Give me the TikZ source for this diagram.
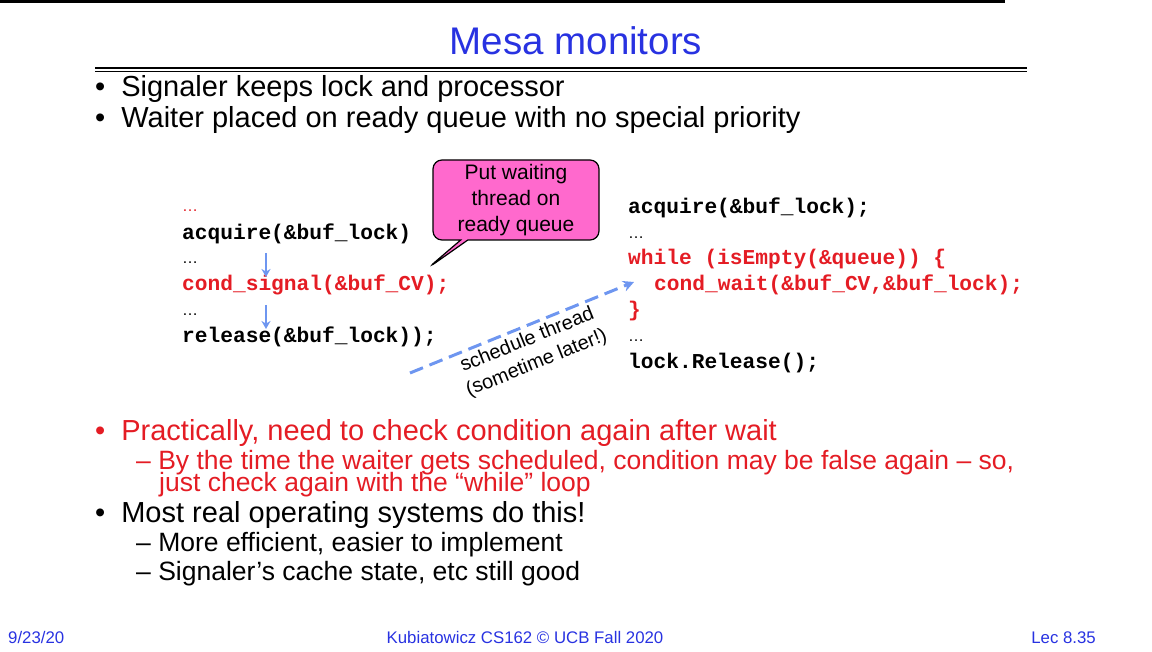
\documentclass[tikz,border=0pt]{standalone}
\usepackage{fontspec}
\setmainfont{Liberation Sans}
\newfontfamily\cmono{Liberation Mono}
\usetikzlibrary{shapes.callouts,arrows.meta}
\definecolor{tblue}{RGB}{40,50,225}
\definecolor{tred}{RGB}{228,28,36}
\definecolor{pinkf}{RGB}{255,105,205}
\definecolor{abl}{RGB}{110,150,240}
\begin{document}
\begin{tikzpicture}[x=1pt,y=-1pt,
 t/.style={anchor=base west,inner sep=0pt,font=\fontsize{29}{31}\selectfont},
 s/.style={anchor=base west,inner sep=0pt,font=\fontsize{26.5}{28}\selectfont},
 c/.style={anchor=base west,inner sep=0pt,font=\cmono\bfseries\fontsize{21.2}{22}\selectfont},
 d/.style={anchor=base west,inner sep=0pt,font=\fontsize{16}{18}\selectfont},
 f/.style={anchor=base,inner sep=0pt,font=\fontsize{16.8}{18}\selectfont,text=tblue},
 sa/.style={abl,line width=2pt,-{Stealth[length=8pt,width=9pt]}}]
\useasboundingbox (0,0) rectangle (1152,652);
\fill (0,0) rectangle (1005,3);
\node[anchor=base,inner sep=0pt,font=\fontsize{38.5}{40}\selectfont,text=tblue] (title) at (576,55) {Mesa monitors};
\draw[line width=1.2pt] (95,68) -- (1027,68);
\draw[line width=0.6pt] (95,71.5) -- (1027,71.5);
\node[t] (b1) at (95,97) {•\hspace{16pt}Signaler keeps lock and processor};
\node[t] (b2) at (95,128) {•\hspace{16pt}Waiter placed on ready queue with no special priority};
% left code
\node[d,text=tred] (l0) at (182,212) {…};
\node[c] (l1) at (182,240) {acquire(\&buf\_lock)};
\node[d] (l2) at (182,264) {…};
\node[c,text=tred] (l3) at (182,291) {cond\_signal(\&buf\_CV);};
\node[d] (l4) at (182,316) {…};
\node[c] (l5) at (182,343) {release(\&buf\_lock));};
\coordinate (a1s) at (266,253); \coordinate (a1e) at (266,277);
\coordinate (a2s) at (266,305); \coordinate (a2e) at (266,329);
\draw[sa] (a1s) -- (a1e);
\draw[sa] (a2s) -- (a2e);
% right code
\node[c] (r1) at (628,214) {acquire(\&buf\_lock);};
\node[d] (r2) at (628,239) {…};
\node[c,text=tred] (r3) at (628,265) {while (isEmpty(\&queue)) \{};
\node[c,text=tred] (r4) at (654,291) {cond\_wait(\&buf\_CV,\&buf\_lock);};
\node[c,text=tred] (r5) at (628,317) {\}};
\node[d] (r6) at (628,342) {…};
\node[c] (r7) at (628,369) {lock.Release();};
% callout
\node[draw=black,line width=1.2pt,fill=pinkf,rounded corners=9pt,rectangle callout,
 callout absolute pointer={(428,268)},minimum width=166pt,minimum height=80pt,align=center,
 font=\fontsize{21}{26}\selectfont,inner sep=2pt] (call) at (516,200) {Put waiting\\thread on\\ready queue};
% dashed arrow
\coordinate (ds) at (410,373); \coordinate (de) at (634,282);
\draw[abl,line width=3pt,dash pattern=on 14pt off 7pt,-{Stealth[length=11pt,width=11pt]}] (ds) -- (de);
\node[rotate=22,align=center,inner sep=0pt,font=\fontsize{20}{25}\selectfont] (sched) at (532,352) {schedule thread\\(sometime later!)};
% bottom bullets
\node[t,text=tred] (b3) at (95,440) {•\hspace{16pt}Practically, need to check condition again after wait};
\node[s,text=tred] (b3a) at (136,469) {– By the time the waiter gets scheduled, condition may be false again – so,};
\node[s,text=tred] (b3b) at (159,491) {just check again with the “while” loop};
\node[t] (b4) at (95,522) {•\hspace{16pt}Most real operating systems do this!};
\node[s] (b4a) at (136,551) {– More efficient, easier to implement};
\node[s] (b4b) at (136,580) {– Signaler’s cache state, etc still good};
% footer
\node[f,anchor=base west] (fl) at (8,643) {9/23/20};
\node[f] (fc) at (525,643) {Kubiatowicz CS162 © UCB Fall 2020};
\node[f,anchor=base east] (fr) at (1096,643) {Lec 8.35};
\end{tikzpicture}
\end{document}
